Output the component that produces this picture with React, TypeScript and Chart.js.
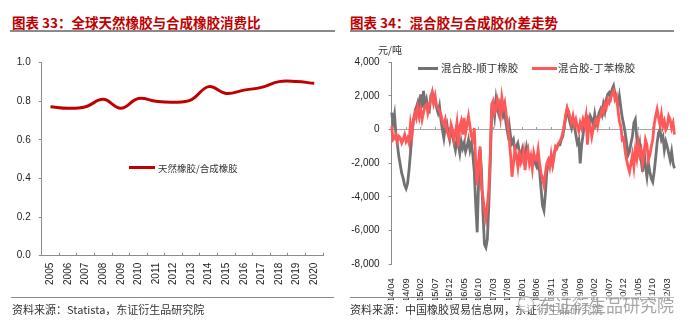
import React, { useEffect, useRef } from 'react';
import { Chart, registerables } from 'chart.js';

Chart.register(...registerables);

// ---------- Left chart: global natural / synthetic rubber consumption ratio ----------
const YEARS = ['2005', '2006', '2007', '2008', '2009', '2010', '2011', '2012', '2013', '2014', '2015', '2016', '2017', '2018', '2019', '2020'];
const CONSUMPTION_RATIO = [0.772, 0.764, 0.772, 0.81, 0.764, 0.815, 0.8, 0.795, 0.808, 0.876, 0.841, 0.858, 0.872, 0.902, 0.902, 0.893];
const RATIO_MIN = 0;
const RATIO_MAX = 1;
const RATIO_STEP = 0.2;

// ---------- Right chart: spread of mixed rubber vs BR / SBR (semi-monthly, 2014/04 - 2022/05) ----------
const START_YEAR = 2014;
const START_MONTH = 4;
// 混合胶-顺丁橡胶
const SPREAD_BR = [
  // 2014 Apr-Dec
  1000, 400, 900, -300, -900, -1600, -2100, -2600, -2900, -3300, -3500, -3200, -2400, -1400, -300, 500, 800, 1300,
  // 2015
  1600, 1000, 2100, 1300, 2300, 1500, 1800, 1200, 1100, 2000, 2200, 1600, 1700, 1300, 1000, 1400, 600, 0, -500, 200, 400, -200, -600, 0,
  // 2016
  -300, -800, -1200, -600, -900, -1400, -700, -1100, -800, -1300, -1000, -600, -1200, -800, -1500, -2500, -4500, -6100, -3000, -1200, -2500, -5000, -6800, -7000,
  // 2017
  -6500, -4500, -2000, 1200, 1500, 800, 1800, 1200, 900, 1600, 1400, 800, 1000, 300, -200, 300, -400, -800, -600, -1200, -1000, -800, -1300, -1600,
  // 2018
  -1200, -1800, -1500, -1000, -1400, -1800, -1800, -1600, -1500, -2000, -2200, -1800, -2500, -3500, -4500, -4800, -3800, -2500, -2000, -1800, -1600, -2000, -1400, -1200,
  // 2019
  -1000, -900, -900, -600, -400, 200, 700, 1200, 800, 400, 100, 600, 200, -300, -800, -600, -2000, -900, -300, 400, 200, 600, 300, 800,
  // 2020
  600, 300, 900, 300, 500, 1000, 1200, 900, 1500, 1100, 1800, 2100, 2200, 1900, 2400, 2600, 2100, 1800, 1500, 2000, 1300, 700, 300, -200,
  // 2021
  -800, -1500, -1300, -800, -400, 400, 600, -500, -1200, -800, -1800, -2500, -1200, -2200, -2800, -2000, -2500, -2900, -3100, -2500, -1700, -800, -200, 0,
  // 2022 Jan-May
  -600, -400, -1200, -700, -1000, -1400, -1800, -1300, -2000, -2300,
];
// 混合胶-丁苯橡胶
const SPREAD_SBR = [
  // 2014 Apr-Dec
  200, -600, -500, -300, -700, -400, -500, -800, -600, -300, -700, -500, -800, 300, -300, 600, 1000, 700,
  // 2015
  1300, 800, 1200, 600, 1000, 1400, 1500, 1000, 1400, 1800, 2200, 1600, 2000, 1400, 1300, 1100, 900, 500, 300, 600, 0, -300, -500, 300,
  // 2016
  0, -600, -200, 400, -1000, 200, 500, -300, 700, -200, 300, 800, 200, -400, -600, 100, -2000, -3300, -1800, -1000, -3500, -4000, -4800, -5300,
  // 2017
  -4500, -3500, -1500, 1500, 1700, 1000, 1200, 1800, 1500, 800, 1900, 1300, 1600, 900, 400, -500, -1500, -2800, -2000, -1200, -1600, -2200, -1200, -2000,
  // 2018
  -1800, -1300, -2400, -1500, -1200, -2000, -1600, -2300, -1400, -1800, -1800, -1200, -2000, -2600, -2900, -3300, -2600, -2000, -1800, -2200, -1500, -2100, -1600, -1000,
  // 2019
  -1100, -800, -700, -500, -200, 300, 900, 1300, 1100, 700, 400, 800, 300, 600, 200, -100, 400, 100, 600, 300, 800, -900, 500, 200,
  // 2020
  -400, 100, 400, 600, 200, 700, 800, 1200, 1000, 1500, 1300, 1800, 1600, 1900, 2100, 2300, 1800, 2000, 1200, 500, 200, -600, -500, -1300,
  // 2021
  -1800, -2200, -2500, -2000, -1500, -2200, -1200, -1700, -800, -1500, -1200, -2000, -1400, -600, -900, -1800, -1500, -1000, -600, 300, 800, 1200, 700, 300,
  // 2022 Jan-May
  900, 200, 500, 0, 200, 800, 600, 100, 400, -300,
];
const SPREAD_MIN = -8000;
const SPREAD_MAX = 4000;
const SPREAD_STEP = 2000;
const TICK_EVERY = 10; // one label every 5 months (two points per month)

const PERIOD_LABELS = SPREAD_BR.map((_, i) => {
  const mi = START_MONTH - 1 + Math.floor(i / 2);
  const yy = (START_YEAR + Math.floor(mi / 12)) % 100;
  const mm = (mi % 12) + 1;
  return `${String(yy).padStart(2, '0')}/${String(mm).padStart(2, '0')}`;
});

const SANS = "'Liberation Sans', Arial, sans-serif";
const CJK = "'Noto Sans CJK SC', 'Noto Sans CJK TC', sans-serif";
const AXIS_COLOR = '#8c8c8c';
const TEXT_COLOR = '#222';
const TITLE_RED = '#c00000';

function RatioChart() {
  const ref = useRef<HTMLCanvasElement>(null);
  useEffect(() => {
    const chart = new Chart(ref.current as HTMLCanvasElement, {
      type: 'line',
      data: {
        labels: YEARS,
        datasets: [
          {
            label: '天然橡胶/合成橡胶',
            data: CONSUMPTION_RATIO,
            borderColor: '#c00000',
            borderWidth: 3,
            pointRadius: 0,
            tension: 0.4,
            fill: false,
          },
        ],
      },
      options: {
        animation: false,
        responsive: false,
        devicePixelRatio: 1,
        layout: { padding: { top: 22.7, right: 17, left: 0, bottom: 0 } },
        plugins: { legend: { display: false }, tooltip: { enabled: false } },
        scales: {
          x: {
            offset: true,
            grid: { offset: true, drawOnChartArea: false, drawTicks: true, tickLength: -3, color: AXIS_COLOR },
            border: { display: true, color: AXIS_COLOR, width: 1 },
            ticks: { autoSkip: false, minRotation: 90, maxRotation: 90, padding: 10, color: TEXT_COLOR, font: { family: SANS, size: 10 } },
            afterFit: (s: any) => { s.height = 44.3; },
          },
          y: {
            min: RATIO_MIN,
            max: RATIO_MAX,
            grid: { drawOnChartArea: false, drawTicks: true, tickLength: 3, color: AXIS_COLOR },
            border: { display: true, color: AXIS_COLOR, width: 1 },
            ticks: {
              stepSize: RATIO_STEP,
              padding: 8,
              color: TEXT_COLOR,
              font: { family: SANS, size: 10 },
              callback: (v: any) => Number(v).toFixed(1),
            },
            afterFit: (s: any) => { s.width = 41.7; },
          },
        },
      },
    } as any);
    return () => chart.destroy();
  }, []);
  return (
    <canvas
      ref={ref}
      width={340}
      height={260}
      style={{ position: 'absolute', left: 0, top: 40, width: 340, height: 260 }}
    />
  );
}

function SpreadChart() {
  const ref = useRef<HTMLCanvasElement>(null);
  useEffect(() => {
    const chart = new Chart(ref.current as HTMLCanvasElement, {
      type: 'line',
      data: {
        labels: PERIOD_LABELS,
        datasets: [
          {
            label: '混合胶-顺丁橡胶',
            data: SPREAD_BR,
            borderColor: '#727272',
            borderWidth: 2.8,
            pointRadius: 0,
            tension: 0,
            fill: false,
            order: 2,
          },
          {
            label: '混合胶-丁苯橡胶',
            data: SPREAD_SBR,
            borderColor: '#ff5858',
            borderWidth: 2.8,
            pointRadius: 0,
            tension: 0,
            fill: false,
            order: 1,
          },
        ],
      },
      options: {
        animation: false,
        responsive: false,
        devicePixelRatio: 1,
        layout: { padding: { top: 22.3, right: 24.5, left: 0, bottom: 0 } },
        plugins: { legend: { display: false }, tooltip: { enabled: false } },
        scales: {
          x: {
            offset: false,
            grid: { display: false },
            border: { display: false },
            ticks: {
              autoSkip: false,
              minRotation: 90,
              maxRotation: 90,
              padding: 6,
              color: TEXT_COLOR,
              font: { family: SANS, size: 9.5 },
              callback: (_v: any, i: number) => (i % TICK_EVERY === 0 ? PERIOD_LABELS[i] : ''),
            },
            afterFit: (s: any) => { s.height = 35.7; },
          },
          x2: {
            type: 'category',
            offset: false,
            position: { y: 0 },
            grid: {
              drawOnChartArea: false,
              drawTicks: true,
              tickLength: -3,
              color: (ctx: any) => (ctx.index % TICK_EVERY === 0 ? '#999' : 'rgba(0,0,0,0)'),
            },
            border: { display: true, color: '#a6a6a6', width: 1 },
            ticks: { display: false },
          },
          y: {
            min: SPREAD_MIN,
            max: SPREAD_MAX,
            grid: { drawOnChartArea: false, drawTicks: true, tickLength: 3, color: AXIS_COLOR },
            border: { display: true, color: AXIS_COLOR, width: 1 },
            ticks: {
              stepSize: SPREAD_STEP,
              padding: 9,
              color: TEXT_COLOR,
              font: { family: SANS, size: 10 },
              callback: (v: any) => Number(v).toLocaleString('en-US'),
            },
            afterFit: (s: any) => { s.width = 46.6; },
          },
        },
      },
    } as any);
    return () => chart.destroy();
  }, []);
  return (
    <canvas
      ref={ref}
      width={354}
      height={260}
      style={{ position: 'absolute', left: 345, top: 40, width: 354, height: 260 }}
    />
  );
}

const abs = (o: React.CSSProperties): React.CSSProperties => ({ position: 'absolute', whiteSpace: 'nowrap', ...o });

export default function App() {
  return (
    <div
      style={{
        position: 'fixed',
        left: 0,
        top: 0,
        width: 699,
        height: 334,
        background: '#fff',
        overflow: 'hidden',
        fontFamily: CJK,
      }}
    >
      {/* Titles */}
      <div style={abs({ left: 12, top: 12.5, fontSize: 13.5, lineHeight: '18px', fontWeight: 700, color: TITLE_RED })}>
        图表 33：全球天然橡胶与合成橡胶消费比
      </div>
      <div style={abs({ left: 350, top: 12.5, fontSize: 13.5, lineHeight: '18px', fontWeight: 700, color: TITLE_RED })}>
        图表 34：混合胶与合成胶价差走势
      </div>
      <div style={abs({ left: 10, top: 30, width: 325, height: 2, background: '#8a8a8a' })} />
      <div style={abs({ left: 350, top: 30, width: 324, height: 2, background: '#8a8a8a' })} />

      <RatioChart />
      <SpreadChart />

      {/* Left legend */}
      <div style={abs({ left: 129, top: 166, width: 26, height: 3, background: '#c00000' })} />
      <div style={abs({ left: 158, top: 160.5, fontSize: 9.5, lineHeight: '14px', color: '#333' })}>天然橡胶/合成橡胶</div>

      {/* Right unit + legend */}
      <div style={abs({ left: 378, top: 43, fontSize: 10, lineHeight: '14px', color: '#333' })}>元/吨</div>
      <div style={abs({ left: 418, top: 66.5, width: 20, height: 3, background: '#727272' })} />
      <div style={abs({ left: 441, top: 61, fontSize: 10.5, lineHeight: '14px', color: '#333' })}>混合胶-顺丁橡胶</div>
      <div style={abs({ left: 532, top: 66.5, width: 25, height: 3, background: '#ff5858' })} />
      <div style={abs({ left: 558, top: 61, fontSize: 10.5, lineHeight: '14px', color: '#333' })}>混合胶-丁苯橡胶</div>

      {/* Bottom rules + sources */}
      <div style={abs({ left: 11, top: 297, width: 323, height: 1, background: '#8a8a8a' })} />
      <div style={abs({ left: 350, top: 297, width: 324, height: 1, background: '#8a8a8a' })} />
      <div style={abs({ left: 12, top: 302, fontSize: 11, lineHeight: '15px', color: '#333' })}>
        资料来源：Statista，东证衍生品研究院
      </div>
      <div style={abs({ left: 350, top: 302, fontSize: 11, lineHeight: '15px', color: '#333' })}>
        资料来源：中国橡胶贸易信息网，东证衍生品研究院
      </div>
      {/* Watermark */}
      <div
        style={abs({
          left: 518,
          top: 296,
          width: 14,
          height: 14,
          borderRadius: 8,
          border: '1.5px solid rgba(150,150,150,0.7)',
          background: 'rgba(255,255,255,0.6)',
        })}
      />
      <div
        style={abs({
          left: 538,
          top: 294,
          fontSize: 17,
          lineHeight: '22px',
          color: 'rgba(150,150,150,0.85)',
          background: 'rgba(255,255,255,0.45)',
        })}
      >
        东证衍生品研究院
      </div>
    </div>
  );
}
